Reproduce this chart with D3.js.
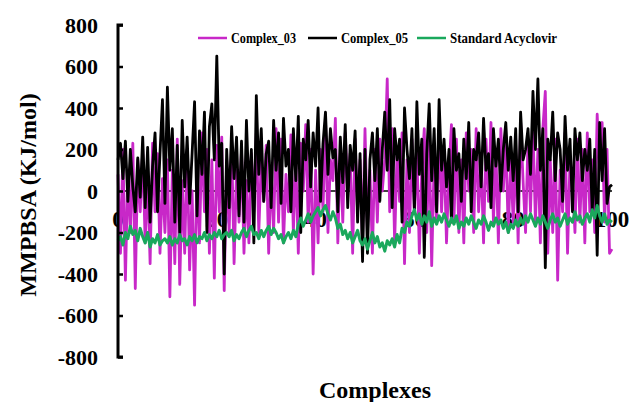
<!DOCTYPE html>
<html>
<head>
<meta charset="utf-8">
<script src="https://cdn.jsdelivr.net/npm/d3@7"></script>
</head>
<body style="margin:0">
<svg id="chart" width="629" height="402"></svg>
<script>
// x runs 0..100 in steps of 0.5
const xStep = 0.5;

const complex05 = [
  150, 230, 60, 240, -50, 200, 20, -100, 160, -30,
  260, -80, 210, -150, 120, 280, -100, 180, 440, -60,
  500, 100, 300, -150, 220, -200, 340, 20, 260, -60,
  180, 430, -120, 290, 80, 380, -200, 310, 420, 150,
  650, 120, 230, -400, 200, -80, 310, 60, 260, -120,
  240, -150, 340, 0, 200, -250, 460, 80, 300, -50,
  180, 240, -80, 340, 100, 280, -60, 350, 120, 200,
  -100, 300, 50, 360, -200, 250, 150, 340, 20, 280,
  120, 400, -50, 230, 380, 80, 300, 160, 200, -100,
  260, 40, 320, -80, 220, 100, 290, -150, 180, -340,
  200, -300, 150, 280, 50, 300, -50, 200, 380, 100,
  440, -80, 300, 150, 250, -150, 400, 200, 60, 300,
  -100, 430, 80, 250, -320, 180, 420, 50, 300, -100,
  440, 100, 250, 20, 200, -150, 300, 100, 180, -50,
  250, 60, 330, -100, 200, 150, 280, 20, 350, 100,
  180, -80, 300, 120, 250, 0, 200, 330, 100, 260,
  50, 300, -100, 380, 150, 200, 300, 80, 480, 200,
  540, 100, 300, -370, 250, 150, 380, 50, 280, 200,
  -50, 360, 100, 250, -100, 300, 150, 280, 50, 200,
  100, 250, -100, 200, -310, 330, 50, 300, -60, 20,
  30
];

const complex03 = [
  80, -300, 200, -430, 100, -200, 230, -470, 150, -100,
  200, -250, 80, -350, 230, -100, 180, -300, 60, -200,
  150, -510, 100, -350, 250, -450, 50, -300, 200, -380,
  0, -550, 120, -250, 280, -100, 200, -300, 150, -420,
  220, -100, 260, -480, 150, -200, 250, -350, 100, -150,
  200, -300, 50, -250, 180, -100, 280, -200, 150, -50,
  220, -300, 100, -200, 300, -150, 250, -250, 80, -100,
  270, -200, 150, -300, 230, 0, 320, -150, 200, -400,
  100, -250, 200, -100, 350, -200, 150, 50, 350, -250,
  200, -150, 280, 0, 180, -300, 250, -100, 150, -250,
  300, -200, 100, -300, 200, -150, 250, 0, 150, 540,
  -100, 300, -250, 200, -50, 280, -350, 150, -200, 250,
  -100, 200, -300, 100, 300, -200, 250, -360, 150, -150,
  300, -100, 200, -250, 100, 320, -150, 250, -200, 150,
  -250, 280, 0, 200, -200, 300, -100, 150, -250, 250,
  -50, 330, -150, 200, -250, 300, 0, 250, -200, 150,
  -150, 200, -250, 330, 50, -200, 250, -100, 300, -150,
  200, -250, 300, 480, -300, 150, -200, 250, -430, 100,
  -100, 280, -300, 150, 50, -200, 250, -150, 200, -250,
  280, -100, 150, -200, 370, 100, 330, -150, 200, -300,
  -280
];

const acyclovir = [
  -240, -220, -260, -200, -230, -170, -210, -190, -240, -180,
  -220, -250, -200, -270, -230, -250, -210, -260, -240, -230,
  -250, -220, -260, -230, -250, -210, -240, -230, -260, -220,
  -240, -210, -250, -220, -230, -200, -240, -210, -230, -200,
  -220, -190, -230, -210, -200, -220, -190, -240, -210, -230,
  -200, -180, -220, -190, -170, -210, -200, -230, -190, -220,
  -190, -170, -210, -180, -200, -230, -210, -250, -220, -200,
  -230, -190, -220, -160, -130, -170, -140, -110, -150, -120,
  -100, -80, -120, -90, -70, -110, -140, -100, -130, -180,
  -160, -210, -190, -230, -200, -250, -220, -190, -240, -260,
  -230, -280, -240, -200, -250, -220, -270, -250, -290, -240,
  -260, -230, -270, -210, -250, -180, -200, -150, -170, -120,
  -90, -140, -110, -160, -120, -150, -100, -170, -130, -160,
  -120, -150, -110, -140, -170, -130, -160, -120, -180, -150,
  -170, -130, -160, -120, -150, -180, -140, -160, -120, -150,
  -190, -150, -170, -130, -160, -140, -180, -150, -200, -160,
  -180, -140, -170, -130, -160, -120, -150, -110, -140, -170,
  -130, -160, -120, -150, -180, -140, -110, -150, -130, -170,
  -140, -110, -160, -130, -150, -100, -140, -120, -160, -130,
  -110, -150, -90, -130, -70, -120, -150, -110, -160, -140,
  -150
];

const seriesNames = ['Complex_03', 'Complex_05', 'Standard Acyclovir'];
const seriesColors = ['#c828c8', '#000000', '#1aa85c'];
const yTicks = [-800, -600, -400, -200, 0, 200, 400, 600, 800];
const xTicks = [0, 20, 40, 60, 80, 100];

const svg = d3.select('#chart');

const x = d3.scaleLinear().domain([0, 100]).range([118, 612]);
const y = d3.scaleLinear().domain([-800, 800]).range([357, 25]);

function label(size) {
  return svg.append('text')
    .attr('font-family', 'Liberation Serif')
    .attr('font-weight', 'bold')
    .attr('font-size', size);
}

// x labels sit just under the zero line, behind the data
xTicks.forEach(t => {
  label(23)
    .attr('x', x(t))
    .attr('y', y(0) + 36)
    .attr('text-anchor', 'middle')
    .text(t);
});

// zero line
svg.append('line')
  .attr('x1', x(0)).attr('x2', x(100))
  .attr('y1', y(0)).attr('y2', y(0))
  .attr('stroke', '#000')
  .attr('stroke-width', 1.5);

const line = d3.line()
  .x((d, i) => x(i * xStep))
  .y(d => y(d));

[complex03, complex05, acyclovir].forEach((s, k) => {
  svg.append('path')
    .datum(s)
    .attr('fill', 'none')
    .attr('stroke', seriesColors[k])
    .attr('stroke-width', k === 2 ? 3 : 2.8)
    .attr('stroke-linejoin', 'round')
    .attr('d', line);
});

// y axis
const yAxis = svg.append('g')
  .attr('transform', `translate(${x(0)},0)`)
  .call(d3.axisRight(y).tickValues(yTicks).tickSize(5).tickFormat(''));
yAxis.select('.domain').attr('stroke-width', 3).attr('d', `M5,${y(800)}H0V${y(-800)}H5`);
yAxis.selectAll('.tick line').attr('stroke-width', 2.5);

yTicks.forEach(t => {
  label(22)
    .attr('x', 98)
    .attr('y', y(t))
    .attr('dy', '0.35em')
    .attr('text-anchor', 'end')
    .text(t);
});

// axis titles
label(24)
  .attr('transform', 'translate(36,195) rotate(-90)')
  .attr('text-anchor', 'middle')
  .text('MMPBSA (KJ/mol)');

label(24)
  .attr('x', 375)
  .attr('y', 398)
  .attr('text-anchor', 'middle')
  .text('Complexes');

// legend
const legendX = [198, 308, 417];
const legendW = [65, 67, 107];
seriesNames.forEach((name, k) => {
  svg.append('line')
    .attr('x1', legendX[k]).attr('x2', legendX[k] + 29)
    .attr('y1', 38).attr('y2', 38)
    .attr('stroke', seriesColors[k])
    .attr('stroke-width', 2.5);
  label(15)
    .attr('x', legendX[k] + 33)
    .attr('y', 43)
    .attr('textLength', legendW[k])
    .attr('lengthAdjust', 'spacingAndGlyphs')
    .text(name);
});
</script>
</body>
</html>
